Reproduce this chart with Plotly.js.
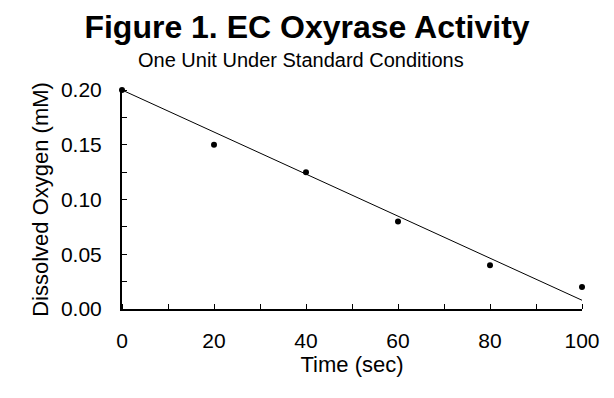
<!DOCTYPE html>
<html><head><meta charset="utf-8">
<script src="https://cdn.plot.ly/plotly-3.0.1.min.js"></script>
<style>html,body{margin:0;padding:0;background:#fff}#chart{width:614px;height:398px}</style>
</head><body><div id="chart"></div>
<script>
const timeSec = [0, 20, 40, 60, 80, 100];
const oxygenMM = [0.20, 0.15, 0.125, 0.08, 0.04, 0.02];
const fitTime = [0, 100];
const fitOxygen = [0.20, 0.008];
const xTickVals = [0, 20, 40, 60, 80, 100];
const xTickText = ['0', '20', '40', '60', '80', '100'];
const yTickVals = [0, 0.05, 0.10, 0.15, 0.20];
const yTickText = ['0.00', '0.05', '0.10', '0.15', '0.20'];

const F = 'Liberation Sans, Arial, sans-serif';
const data = [
  {x: fitTime, y: fitOxygen, mode: 'lines', line: {color: '#000', width: 1}, hoverinfo: 'skip', cliponaxis: false},
  {x: timeSec, y: oxygenMM, mode: 'markers', marker: {color: '#000', size: 6}, cliponaxis: false}
];
const layout = {
  width: 614, height: 398,
  margin: {l: 122, r: 32, t: 90, b: 89},
  paper_bgcolor: '#fff', plot_bgcolor: '#fff',
  showlegend: false,
  font: {family: F, color: '#000'},
  title: {text: '<b>Figure 1. EC Oxyrase Activity</b>', font: {family: F, size: 32, color: '#000'},
          x: 307/614, xanchor: 'center', xref: 'container', y: 1 - 27/398, yanchor: 'middle', yref: 'container'},
  annotations: [{text: 'One Unit Under Standard Conditions', xref: 'paper', yref: 'paper',
                 x: (301-122)/460, y: 1 + (90-60)/219, xanchor: 'center', yanchor: 'middle', showarrow: false,
                 font: {family: F, size: 20, color: '#000'}}],
  xaxis: {range: [0, 100], tickvals: xTickVals, ticktext: xTickText, ticks: '', showgrid: false, zeroline: false,
          showline: true, linecolor: '#000', linewidth: 2, tickfont: {size: 21, family: F, color: '#000'},
          ticklabelstandoff: 12,
          minor: {dtick: 10, tick0: 0, ticks: 'inside', ticklen: 5, tickcolor: '#000', showgrid: false},
          title: {text: 'Time (sec)', font: {size: 22, family: F, color: '#000'}, standoff: 5}},
  yaxis: {range: [0, 0.2], tickvals: yTickVals, ticktext: yTickText, ticks: '', showgrid: false, zeroline: false,
          showline: true, linecolor: '#000', linewidth: 2, tickfont: {size: 21, family: F, color: '#000'},
          ticklabelstandoff: 14,
          minor: {dtick: 0.025, tick0: 0, ticks: 'inside', ticklen: 5, tickcolor: '#000', showgrid: false},
          title: {text: 'Dissolved Oxygen (mM)', font: {size: 22, family: F, color: '#000'}, standoff: 6}}
};
Plotly.newPlot('chart', data, layout, {displayModeBar: false, staticPlot: true});
</script></body></html>
